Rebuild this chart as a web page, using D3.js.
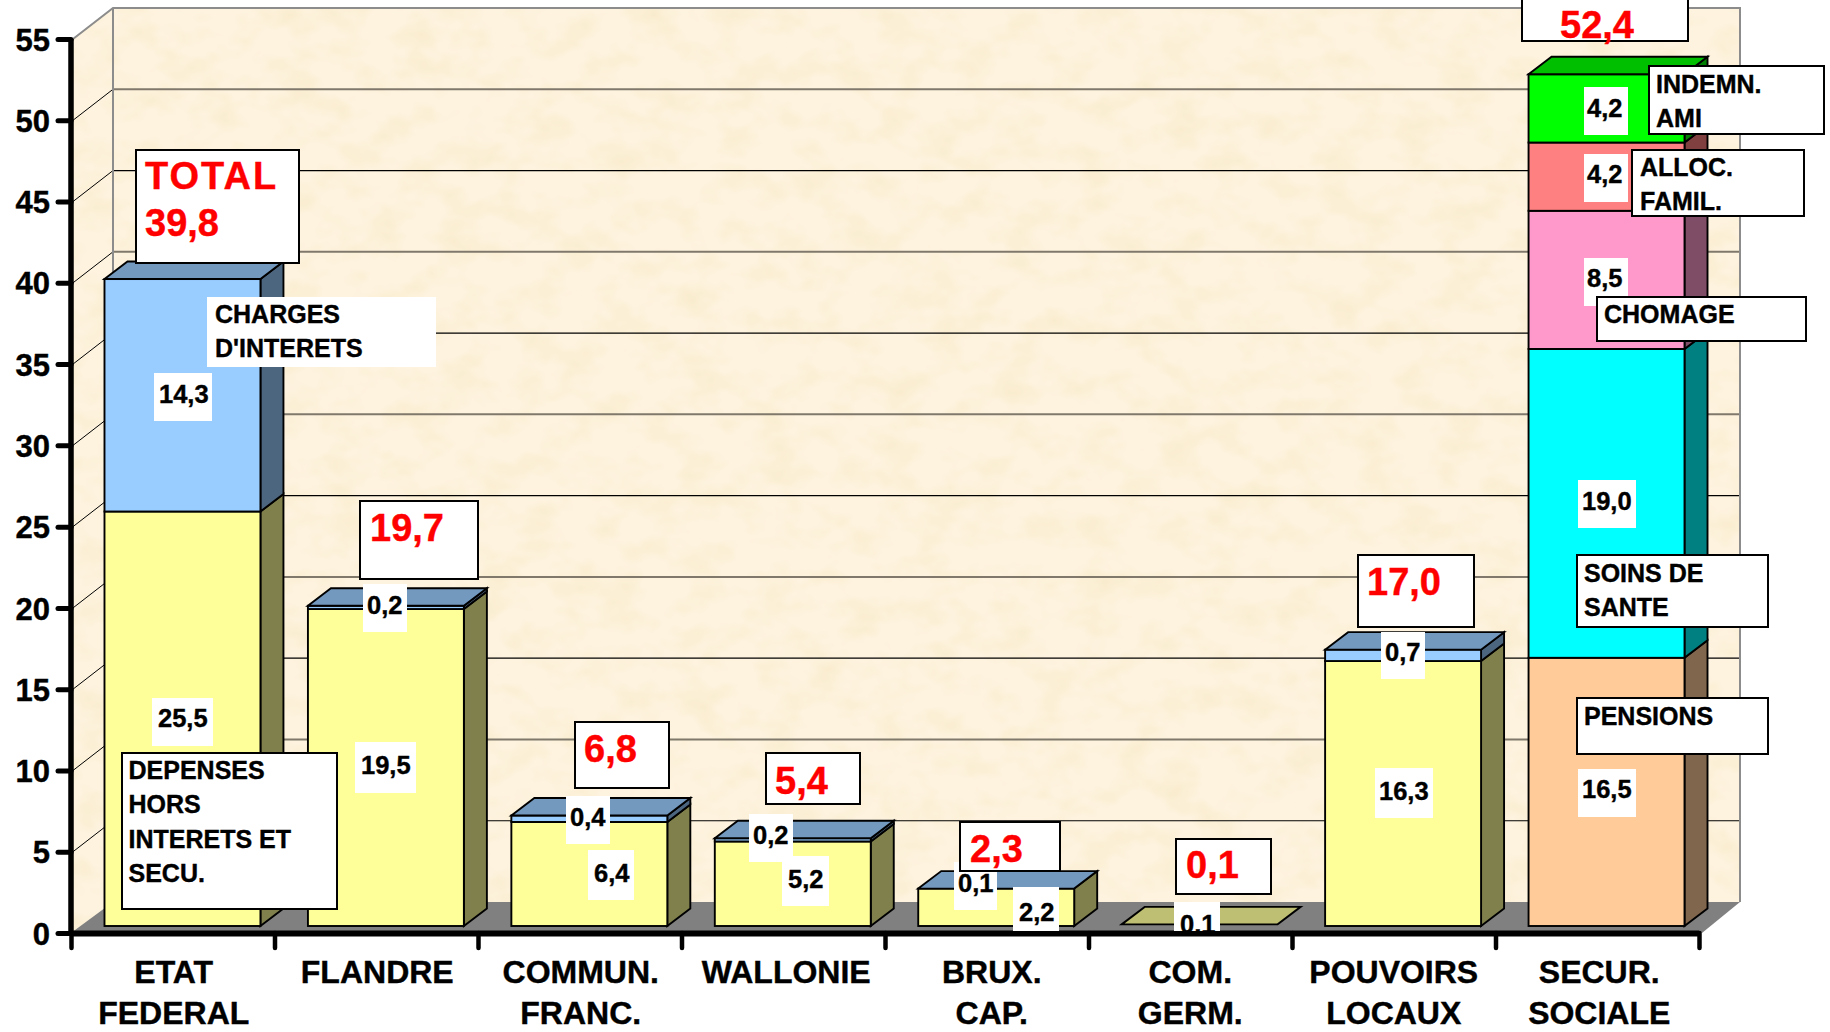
<!DOCTYPE html>
<html>
<head>
<meta charset="utf-8">
<script src="https://cdn.jsdelivr.net/npm/d3@7/dist/d3.min.js"></script>
<style>
html,body{margin:0;padding:0;background:#fff;overflow:hidden}
svg{display:block}
text{font-family:"Liberation Sans",Arial,sans-serif;font-weight:bold}
</style>
</head>
<body>
<svg id="chart" width="1830" height="1032"></svg>
<script>
// ---------- data ----------
const categories = [
  ["ETAT","FEDERAL"],["FLANDRE"],["COMMUN.","FRANC."],["WALLONIE"],
  ["BRUX.","CAP."],["COM.","GERM."],["POUVOIRS","LOCAUX"],["SECUR.","SOCIALE"]
];
const yTicks = [0,5,10,15,20,25,30,35,40,45,50,55];
const depensesHorsInterets = [25.5,19.5,6.4,5.2,2.2,0.1,16.3,0];
const chargesInterets      = [14.3,0.2,0.4,0.2,0.1,0,0.7,0];
const pensions             = [0,0,0,0,0,0,0,16.5];
const soinsSante           = [0,0,0,0,0,0,0,19.0];
const chomage              = [0,0,0,0,0,0,0,8.5];
const allocFamil           = [0,0,0,0,0,0,0,4.2];
const indemnAmi            = [0,0,0,0,0,0,0,4.2];
const totals               = [39.8,19.7,6.8,5.4,2.3,0.1,17.0,52.4];

const seriesNames = ["depenses","charges","pensions","soins","chomage","alloc","indemn"];
const seriesValues = [depensesHorsInterets,chargesInterets,pensions,soinsSante,chomage,allocFamil,indemnAmi];
const seriesColors = ["#FFFF99","#99CCFF","#FFCC99","#00FFFF","#FF99CC","#FF8080","#00FF00"];

// ---------- hand-placed annotation layout (like the callouts in the original) ----------
// value labels: [series index, category index, box x, box y, box w, box h]
const valueBoxes = [
  [0,0,152,698,61,48],[1,0,154,373,58,48],
  [0,1,355,742,61,51],[1,1,363,584,44,48],
  [0,2,588,850,46,50],[1,2,566,796,44,48],
  [0,3,782,856,47,50],[1,3,749,814,44,48],
  [0,4,1013,887,46,44],[1,4,954,862,43,48],
  [0,5,1174,902,46,29],
  [0,6,1375,768,58,50],[1,6,1381,632,44,47],
  [2,7,1578,769,58,48],[3,7,1578,480,58,48],[4,7,1584,258,44,48],
  [5,7,1584,154,44,48],[6,7,1584,87,44,48]
];
const valueBaselines = [727,403,774,614,882,826,888,844,921,892,933,800,661,798,510,287,183,117];
const valueTextX = [158,159,361,367,594,570,788,753,1019,958,1180,1379,1385,1582,1582,1587,1587,1587];
// total boxes per category: x,y,w,h, text x, baseline
const totalBoxes = [
  [136,150,163,113,145,236],[360,501,118,78,370,541],[575,722,94,66,584,762],
  [766,753,94,51,775,794],[960,822,100,49,970,862],[1176,839,95,55,1186,878],
  [1358,555,116,72,1367,595],[1522,-10,166,51,1560,38]
];
// series captions
const captions = [
  {lines:["CHARGES","D'INTERETS"],box:[207,297,229,70],x:215,base:[323,357],border:false},
  {lines:["DEPENSES","HORS","INTERETS ET","SECU."],box:[122,753,215,156],x:128.5,base:[779,813,848,882],border:true},
  {lines:["INDEMN.","AMI"],box:[1649,66,175,68],x:1656,base:[93,127],border:true},
  {lines:["ALLOC.","FAMIL."],box:[1632,150,172,66],x:1640,base:[176,210],border:true},
  {lines:["CHOMAGE"],box:[1597,297,209,44],x:1604,base:[323],border:true},
  {lines:["SOINS DE","SANTE"],box:[1577,555,191,72],x:1584,base:[582,616],border:true},
  {lines:["PENSIONS"],box:[1577,698,191,56],x:1584,base:[725],border:true}
];
const categoryNudge = [1,1,1,3,5,0,0,2];

// ---------- scales ----------
const svg = d3.select("#chart");
const yAxisScale = d3.scaleLinear().domain([0,55]).range([933,39]);
const yBar = d3.scaleLinear().domain([0,55]).range([926,32]);
const xTick = d3.scaleLinear().domain([0,8]).range([71,1699]);
const xBar = d3.scaleBand().domain(d3.range(8)).range([80.5,1708.5])
  .paddingInner(47.5/203.5).paddingOuter(24/203.5);
const xCenter = d3.scaleBand().domain(d3.range(8)).range([71,1699]);

// 3-D projection
const wallDx = 41, wallDy = 31;
const barDx = 23, barDy = 17.5;
const poly = pts => pts.map(p=>p.join(",")).join(" ");
const X0 = xTick(0)+2, X1 = xTick(8)+3;
const Yf = yAxisScale(0), Yt = yAxisScale(55);

// ---------- walls ----------
const defs = svg.append("defs");
const f = defs.append("filter").attr("id","paper").attr("x",0).attr("y",0).attr("width","100%").attr("height","100%");
f.append("feTurbulence").attr("type","fractalNoise").attr("baseFrequency","0.025 0.035").attr("numOctaves",3).attr("seed",7);
f.append("feColorMatrix").attr("type","matrix").attr("values",
  "0 0 0 0 0.90  0 0 0 0 0.78  0 0 0 0 0.50  1.0 0 0 0 -0.42");
defs.append("clipPath").attr("id","wallClip").selectAll("polygon")
  .data([
    [[X0,Yf],[X0+wallDx-1,Yf-wallDy],[X0+wallDx-1,Yt-wallDy],[X0,Yt]],
    [[X0+wallDx-1,Yf-wallDy],[X1+wallDx-3,Yf-wallDy],[X1+wallDx-3,Yt-wallDy],[X0+wallDx-1,Yt-wallDy]]
  ]).join("polygon").attr("points",poly);
defs.append("clipPath").attr("id","lowClip").append("rect").attr("x",0).attr("y",0).attr("width",1830).attr("height",931);

const wall = svg.append("g").attr("clip-path","url(#wallClip)");
wall.append("rect").attr("x",0).attr("y",0).attr("width",1830).attr("height",1032).attr("fill","#FEF3DF");
wall.append("rect").attr("x",0).attr("y",0).attr("width",1830).attr("height",1032).attr("filter","url(#paper)");

const BL = X0+wallDx-1, BR = X1+wallDx-3;

// floor
svg.append("polygon").attr("fill","#808080")
  .attr("points",poly([[X0-2,Yf],[BL,Yf-wallDy],[BR,Yf-wallDy],[X1,Yf]]));

// gridlines
const grid = svg.append("g");
yTicks.filter(t=>t>0).forEach(t=>{
  const y = yAxisScale(t);
  const tens = t%10===0;
  if(t<55){
    grid.append("line").attr("x1",BL).attr("x2",BR).attr("y1",y-wallDy).attr("y2",y-wallDy)
      .attr("stroke",tens?"#7F786B":"#000").attr("stroke-width",tens?2:1.2);
    grid.append("line").attr("x1",X0).attr("y1",y).attr("x2",BL).attr("y2",y-wallDy)
      .attr("stroke","#000").attr("stroke-width",1);
  }
});
// wall frame
svg.append("path").attr("fill","none").attr("stroke","#8C8C8C").attr("stroke-width",2)
  .attr("d",`M${X0},${Yt} L${BL},${Yt-wallDy} L${BR},${Yt-wallDy} L${BR},${Yf-wallDy} M${BL},${Yt-wallDy} L${BL},${Yf-wallDy}`);

// ---------- bars ----------
const table = d3.range(8).map(i=>{
  const o={}; seriesNames.forEach((n,k)=>o[n]=seriesValues[k][i]); return o;
});
const stacked = d3.stack().keys(seriesNames)(table);
const shade = (c,k)=>{const r=d3.rgb(c);return d3.rgb(r.r*k,r.g*k,r.b*k).formatHex();};
const tiny = 0.11; // a segment this thin shows only as an outline in the reference

const barsG = svg.append("g").attr("stroke","#000").attr("stroke-width",1.9).attr("stroke-linejoin","miter");
d3.range(8).forEach(i=>{
  const x0 = xBar(i), x1 = x0 + xBar.bandwidth();
  const all = stacked.map((s,k)=>({k,y0:s[i][0],y1:s[i][1]})).filter(d=>d.y1>d.y0);
  const top = all[all.length-1];
  // thin top segments merge into what lies beneath them
  const segs = all.filter(d=>d.y1-d.y0>tiny).map(d=>({...d,y1:(d===all[all.length-2]&&top.y1-top.y0<=tiny)?top.y1:d.y1}));
  const g = barsG.append("g");
  g.selectAll("polygon.side").data(segs).join("polygon").attr("class","side")
    .attr("fill",d=>shade(seriesColors[d.k],0.5))
    .attr("points",d=>poly([[x1,yBar(d.y0)],[x1+barDx,yBar(d.y0)-barDy],[x1+barDx,yBar(d.y1)-barDy],[x1,yBar(d.y1)]]));
  g.selectAll("rect.front").data(segs).join("rect").attr("class","front")
    .attr("fill",d=>seriesColors[d.k])
    .attr("x",x0).attr("width",xBar.bandwidth())
    .attr("y",d=>yBar(d.y1)).attr("height",d=>yBar(d.y0)-yBar(d.y1));
  g.append("polygon").attr("fill",shade(seriesColors[top.k],0.75))
    .attr("points",poly([[x0,yBar(top.y1)],[x0+barDx,yBar(top.y1)-barDy],[x1+barDx,yBar(top.y1)-barDy],[x1,yBar(top.y1)]]));
});

// ---------- axes ----------
const yAxis = d3.axisLeft(yAxisScale).tickValues(yTicks).tickSize(16).tickPadding(5).tickFormat(d3.format("d"));
const yG = svg.append("g").attr("transform","translate(71,0)").call(yAxis);
yG.select(".domain").remove();
yG.selectAll(".tick line").attr("stroke","#000").attr("stroke-width",5).attr("stroke-linecap","round").attr("x2",-13);
yG.selectAll(".tick text").attr("fill","#000").attr("font-size",31).attr("dy","0.36em").attr("x",-21)
  .style("font-family",'"Liberation Sans",Arial,sans-serif').style("font-weight","bold");

const xAxis = d3.axisBottom(xTick).ticks(8).tickSize(15).tickFormat("");
const xG = svg.append("g").attr("transform",`translate(0,${Yf})`).call(xAxis);
xG.select(".domain").remove();
xG.selectAll(".tick line").attr("stroke","#000").attr("stroke-width",4.5).attr("stroke-linecap","round");
svg.append("line").attr("x1",71).attr("x2",1699).attr("y1",Yf+0.5).attr("y2",Yf+0.5).attr("stroke","#000").attr("stroke-width",6);
svg.append("line").attr("x1",71).attr("x2",71).attr("y1",Yt).attr("y2",Yf).attr("stroke","#000").attr("stroke-width",5.5);

// category labels
const catBase = [983,1024];
categories.forEach((lines,i)=>{
  lines.forEach((t,j)=>{
    svg.append("text").attr("x",xCenter(i)+xCenter.bandwidth()/2+categoryNudge[i]).attr("y",catBase[j])
      .attr("text-anchor","middle").attr("font-size",32).attr("fill","#000").text(t);
  });
});

// ---------- labels ----------
const fmt = v => d3.format(".1f")(v).replace(".",",");
const labels = svg.append("g");

valueBoxes.forEach((b,n)=>{
  const v = seriesValues[b[0]][b[1]];
  labels.append("rect").attr("x",b[2]).attr("y",b[3]).attr("width",b[4]).attr("height",b[5]).attr("fill","#fff");
  const t = labels.append("text").attr("x",valueTextX[n]).attr("y",valueBaselines[n])
    .attr("font-size",25.5).attr("fill","#000").text(fmt(v));
  if(valueBaselines[n]>=931) t.attr("clip-path","url(#lowClip)");
});

captions.forEach(c=>{
  const r = labels.append("rect").attr("x",c.box[0]).attr("y",c.box[1]).attr("width",c.box[2]).attr("height",c.box[3]).attr("fill","#fff");
  if(c.border) r.attr("stroke","#000").attr("stroke-width",2);
  c.lines.forEach((t,j)=>{
    labels.append("text").attr("x",c.x).attr("y",c.base[j]).attr("font-size",25).attr("fill","#000").text(t);
  });
});

totals.forEach((v,i)=>{
  const b = totalBoxes[i];
  labels.append("rect").attr("x",b[0]).attr("y",b[1]).attr("width",b[2]).attr("height",b[3])
    .attr("fill","#fff").attr("stroke","#000").attr("stroke-width",2);
  if(i===0){
    labels.append("text").attr("x",b[4]).attr("y",189).attr("font-size",38).attr("fill","#FF0000")
      .attr("letter-spacing",2).text("TOTAL");
  }
  labels.append("text").attr("x",b[4]).attr("y",b[5]).attr("font-size",38).attr("fill","#FF0000").text(fmt(v));
});
// the reference's text is slightly heavier than plain bold
svg.selectAll("text").each(function(){
  d3.select(this).attr("stroke",this.getAttribute("fill")).attr("stroke-width",0.4);
});
</script>
</body>
</html>
